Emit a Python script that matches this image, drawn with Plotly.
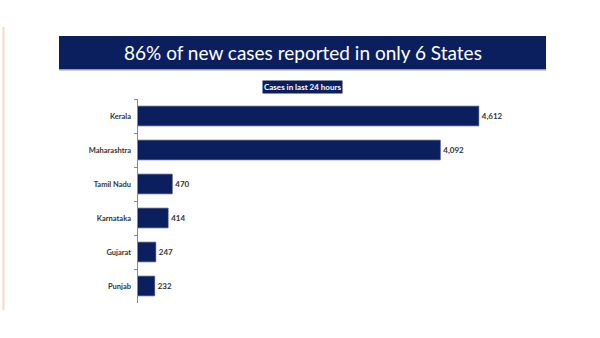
import plotly.graph_objects as go

# Cases reported in the last 24 hours, by state
states = ["Kerala", "Maharashtra", "Tamil Nadu", "Karnataka", "Gujarat", "Punjab"]
cases = [4612, 4092, 470, 414, 247, 232]

title_text = "86% of new cases reported in only 6 States"
subtitle_text = "Cases in last 24 hours"

NAVY = "#0b1f5e"
W, H = 600, 338


def px_x(x):
    return x / W


def px_y(y):
    return 1 - y / H


fig = go.Figure(
    go.Bar(
        x=cases,
        y=states,
        orientation="h",
        marker=dict(color=NAVY, line=dict(color="#2a3a70", width=0.6)),
        text=cases,
        texttemplate="%{x:,}",
        textposition="outside",
        textfont=dict(family="Lato", size=8, color="#333333", weight="bold"),
        cliponaxis=False,
        width=0.58,
    )
)

fig.update_layout(
    width=W,
    height=H,
    margin=dict(l=0, r=0, t=0, b=0),
    paper_bgcolor="white",
    plot_bgcolor="white",
    showlegend=False,
    xaxis=dict(
        domain=[px_x(137.5), px_x(507.5)],
        range=[0, 5000],
        showgrid=False,
        zeroline=False,
        showticklabels=False,
        showline=False,
        ticks="",
    ),
    yaxis=dict(
        domain=[px_y(303), px_y(99)],
        autorange="reversed",
        type="category",
        showgrid=False,
        zeroline=False,
        showline=True,
        linecolor="#8a8a8a",
        linewidth=1,
        ticks="outside",
        tickson="boundaries",
        ticklen=3,
        tickcolor="#8a8a8a",
        ticklabelstandoff=4,
        tickfont=dict(family="Lato", size=7.5, color="#333333", weight="bold"),
    ),
    shapes=[
        # thin accent rule along the left edge
        dict(type="rect", xref="paper", yref="paper",
             x0=px_x(2.5), x1=px_x(4.5), y0=px_y(310), y1=px_y(27),
             fillcolor="#f3dcc2", line=dict(width=0)),
        # headline banner shadow
        dict(type="rect", xref="paper", yref="paper",
             x0=px_x(59), x1=px_x(546), y0=px_y(70.5), y1=px_y(68.5),
             fillcolor="#9aa0b0", line=dict(width=0)),
        # headline banner
        dict(type="rect", xref="paper", yref="paper",
             x0=px_x(59), x1=px_x(546), y0=px_y(69), y1=px_y(36),
             fillcolor=NAVY, line=dict(width=0)),
    ],
    annotations=[
        dict(text=title_text, xref="paper", yref="paper",
             x=px_x(302.5), y=px_y(52.5), xanchor="center", yanchor="middle",
             showarrow=False,
             font=dict(family="Lato", size=19, color="white")),
        dict(text=subtitle_text, xref="paper", yref="paper",
             x=px_x(302.5), y=px_y(87.5), xanchor="center", yanchor="middle",
             showarrow=False, bgcolor=NAVY, borderpad=1,
             font=dict(family="Lato", size=8, color="white", weight="bold")),
    ],
)

fig.write_html("out.html")
